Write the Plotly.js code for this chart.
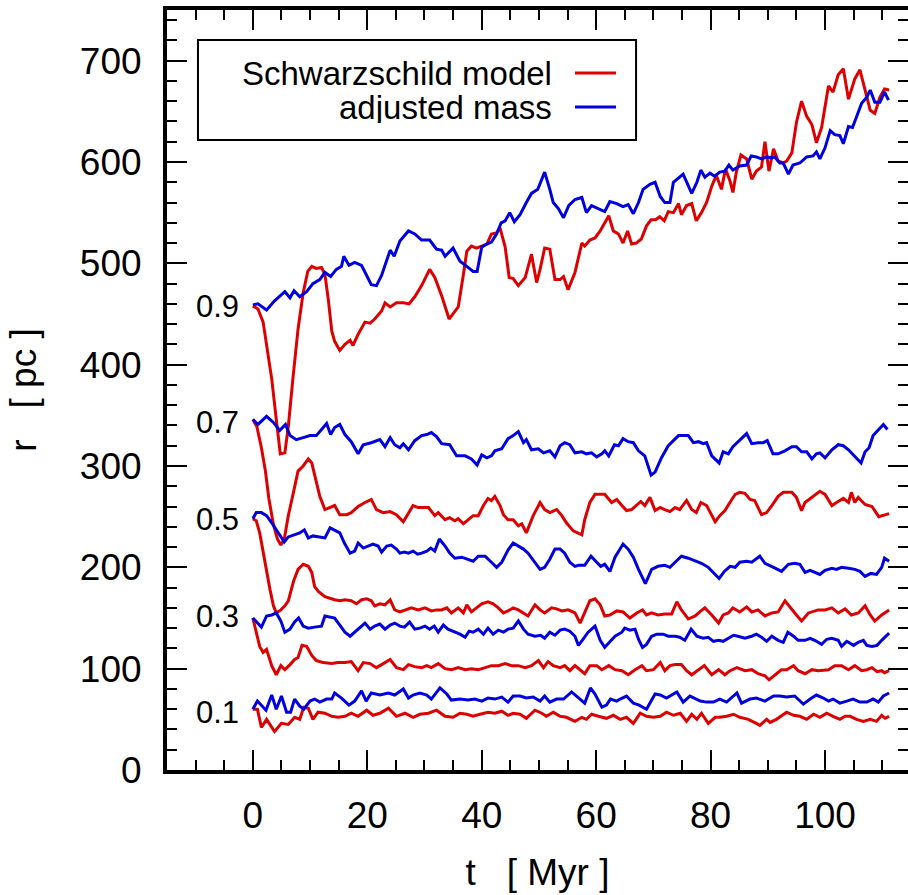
<!DOCTYPE html>
<html>
<head>
<meta charset="utf-8">
<script src="https://cdn.plot.ly/plotly-3.0.1.min.js"></script>
<style>html,body{margin:0;padding:0;background:#fff;overflow:hidden;}#chart{width:908px;height:895px;}</style>
</head>
<body>
<div id="chart"></div>
<script>
// ---- data: r [pc] vs t [Myr] for Lagrangian radii 0.1 ... 0.9 ----
// Schwarzschild model (red)
const tS09 = [0,0.9,1.8,2.4,3.3,4.1,4.8,5.6,6.2,7.0,7.9,8.8,9.6,10.3,11.1,12.0,12.6,13.2,13.8,14.3,15.2,16.1,17.0,17.5,18.4,19.6,20.5,21.3,22.5,23.1,24.0,25.1,26.3,27.3,28.3,29.5,30.9,31.8,33.0,34.3,35.9,36.8,37.4,38.2,39.1,40.0,40.9,41.7,42.6,43.2,44.1,44.8,45.5,46.4,47.6,48.7,49.6,50.2,51.0,51.9,52.8,53.7,54.3,55.1,56.3,57.5,58.0,58.9,59.8,60.7,61.5,62.2,63.0,63.9,64.7,65.5,66.2,67.0,67.9,68.8,69.6,70.4,71.1,71.9,72.6,73.5,74.4,74.9,75.8,76.7,77.5,78.4,79.3,80.2,81.0,81.9,82.6,83.4,83.9,84.5,85.3,86.3,87.2,88.0,88.9,89.5,90.2,91.0,91.8,92.7,93.3,94.2,95.0,95.9,96.8,97.7,98.5,99.4,100.6,101.4,102.3,103.2,104.1,105.2,106.1,107.0,107.9,108.7,109.6,110.4,111.2];
const rS09 = [458,455,442,418,386,346,312,313,339,386,435,471,492,497,495,496,489,464,433,423,414,420,424,419,430,442,441,445,453,461,457,461,461,460,467,478,494,486,468,445,457,489,512,517,515,517,519,529,530,535,516,486,485,478,486,509,481,494,515,514,484,484,487,474,491,520,517,523,525,532,540,547,532,529,520,532,519,520,524,537,543,543,546,542,551,550,559,548,557,559,542,550,560,576,587,573,593,581,570,590,607,603,583,591,595,620,591,613,601,599,601,609,639,660,645,637,619,634,675,669,686,692,662,682,691,672,651,648,664,672,671];

const tS07 = [0,0.7,1.5,2.2,2.8,3.6,4.3,4.9,5.5,6.2,7.1,7.9,8.8,9.7,10.3,10.8,11.7,12.6,13.5,14.3,15.2,16.4,17.2,18.4,19.6,20.7,21.6,22.8,24.0,25.1,26.3,27.2,28.0,28.9,29.8,30.7,31.8,32.4,33.6,34.4,35.3,35.9,36.8,37.6,38.5,39.4,40.3,41.1,41.7,42.3,43.2,43.8,44.6,45.5,46.4,47.0,47.8,49.0,50.2,51.0,51.9,53.1,54.0,54.8,56.0,57.5,58.0,58.9,59.8,60.7,61.5,62.7,63.6,64.5,65.3,66.2,67.1,67.8,68.5,69.4,70.3,71.2,72.0,72.9,73.8,74.6,75.8,76.7,77.5,78.3,79.3,80.2,80.8,81.6,82.5,83.7,84.3,85.1,86.0,86.9,87.7,88.9,89.8,90.7,91.8,92.7,94.2,95.0,95.9,96.5,97.6,99.1,100.0,101.2,102.0,103.2,104.1,104.6,105.2,105.8,107.0,108.2,109.4,110.4,111.2];
const rS07 = [346,339,318,295,268,242,228,222,228,251,274,295,300,307,303,290,270,257,259,261,252,252,254,260,264,267,257,254,255,252,245,254,261,259,259,259,251,254,247,249,246,248,243,247,251,251,261,268,266,270,261,252,247,247,241,243,234,251,264,257,254,257,251,244,236,232,247,264,272,272,272,264,267,261,256,257,261,265,261,269,256,259,257,255,259,257,266,257,254,264,261,252,245,251,256,267,272,274,273,267,266,252,254,261,270,274,274,269,256,264,269,275,272,261,264,268,264,274,264,269,262,260,250,252,253];

const tS05 = [0,0.6,1.2,1.8,2.4,3.0,3.6,4.1,4.9,5.6,6.2,7.1,7.9,8.8,9.7,10.3,10.8,11.5,12.6,13.5,14.3,15.2,16.1,17.2,18.1,19.0,19.9,20.7,21.3,22.2,23.1,24.0,24.8,25.7,26.6,27.7,28.9,30.1,31.2,32.1,33.0,33.9,34.7,35.9,36.8,37.4,38.2,39.1,40.0,41.1,42.0,42.9,43.8,44.6,45.5,46.4,47.3,48.1,49.3,50.2,51.0,52.2,53.1,54.0,55.1,56.3,57.2,58.0,58.9,59.8,60.7,61.5,62.4,63.6,64.7,65.9,67.1,68.1,68.8,69.7,70.8,72.0,73.2,74.1,74.9,76.1,77.3,78.1,79.0,80.2,81.4,82.2,83.1,83.9,85.1,86.3,87.2,88.3,89.5,90.7,91.8,93.0,94.2,95.0,95.9,97.1,98.8,100.0,101.2,102.3,103.5,104.6,105.8,107.0,107.9,108.7,109.9,111.2];
const rS05 = [248,246,234,214,195,178,162,155,158,162,167,186,198,203,201,195,181,176,171,169,168,167,168,167,164,168,169,167,162,164,163,168,158,156,158,160,158,160,157,158,158,160,155,160,155,163,156,160,164,166,164,160,155,157,160,158,155,152,163,158,155,160,159,157,158,155,145,155,167,169,163,152,153,157,156,150,155,158,153,155,153,154,154,166,158,149,152,156,160,153,145,153,155,160,156,161,156,158,152,155,156,167,158,153,147,155,158,158,160,155,159,153,155,162,153,147,153,158];

const tS03 = [0,0.6,1.2,1.8,2.4,3.3,4.1,4.9,5.6,6.5,7.3,7.9,8.6,9.4,10.3,11.1,12.3,13.8,14.9,16.1,17.2,18.4,19.3,20.5,21.6,22.8,24.0,25.1,26.3,27.2,28.3,29.5,30.4,31.2,32.4,33.6,34.7,35.9,37.1,38.2,39.4,40.6,41.7,42.9,44.1,45.2,46.4,47.6,48.7,49.9,50.8,51.6,52.5,53.7,54.5,55.4,56.3,58.0,58.9,60.1,61.0,62.2,63.3,64.5,65.6,66.8,68.0,68.8,70.0,71.2,72.0,72.9,73.8,74.9,75.8,76.7,77.9,78.9,80.2,81.4,82.5,83.4,84.6,86.0,87.2,88.3,89.5,90.2,91.3,92.4,93.3,94.5,95.3,96.5,97.7,98.8,100.6,101.7,102.9,104.1,105.2,106.4,107.3,108.2,109.1,109.9,110.4,111.2];
const rS03 = [150,136,122,116,119,103,94,103,99,104,109,111,123,122,113,108,106,105,106,106,107,98,106,105,101,105,109,101,99,104,102,101,103,101,105,100,99,101,99,100,99,101,103,103,105,103,103,101,103,108,101,107,103,101,103,98,103,95,103,103,99,103,99,98,94,99,103,98,99,106,98,103,104,104,98,94,99,103,94,99,94,98,101,98,99,95,93,89,94,99,99,103,98,95,99,98,99,103,103,99,103,98,99,101,97,98,96,98];

const tS01 = [0,0.8,1.5,2.4,3.8,5.0,6.2,7.3,8.2,8.9,9.7,10.5,11.4,12.6,13.8,14.9,16.1,17.2,18.4,19.9,21.0,22.2,23.7,25.1,26.6,28.0,29.2,30.7,32.1,33.6,35.0,36.2,37.4,38.5,39.7,41.1,42.3,43.5,44.6,45.5,46.7,47.8,49.3,50.5,51.3,52.5,53.7,54.8,56.3,57.5,58.3,59.2,60.4,61.8,63.0,64.2,65.3,66.5,67.7,68.8,70.0,71.2,72.3,73.5,74.7,75.8,76.7,77.6,78.4,79.6,80.8,81.6,82.8,84.0,85.1,86.6,88.0,88.6,89.8,90.4,91.5,93.3,94.5,95.6,96.8,98.0,99.1,100.3,101.4,102.6,103.5,104.4,105.5,106.7,107.9,109.0,109.9,110.5,111.2];
const rS01 = [60,60,42,50,38,46,45,52,50,62,61,50,57,56,53,52,53,56,53,59,54,56,61,53,56,52,55,56,59,53,52,56,55,53,55,57,56,58,54,56,55,51,59,56,53,57,53,52,48,52,50,55,53,51,54,50,52,46,56,53,52,53,57,54,56,48,55,50,56,46,52,52,53,55,52,50,46,44,50,47,50,57,54,53,50,55,52,56,53,50,53,53,50,48,50,48,54,51,53];

// adjusted mass (blue)
const tA09 = [0,0.9,2.4,3.8,5.6,6.5,7.2,8.2,9.4,10.5,11.7,12.6,13.6,14.6,15.5,15.9,16.8,17.8,19.0,19.9,20.7,21.6,22.5,24.0,24.7,25.7,27.2,28.3,29.5,30.9,32.1,33.0,33.6,35.0,36.2,37.4,38.5,39.2,40.0,40.9,41.7,42.6,43.4,44.1,44.9,45.7,46.7,47.8,48.7,49.8,51.0,51.9,52.5,53.4,54.3,55.2,56.3,57.5,58.3,59.2,60.4,61.5,62.4,63.6,64.7,65.6,66.5,67.4,68.2,69.4,70.3,71.2,72.0,72.9,73.5,74.7,75.2,76.0,76.7,77.6,78.3,79.0,79.9,80.7,81.6,82.5,83.2,83.9,85.1,86.3,87.1,88.0,88.9,89.8,90.7,91.2,92.1,92.7,93.6,94.4,95.6,96.8,97.9,98.5,99.1,100.0,100.9,101.7,102.6,103.2,104.1,104.8,105.5,106.4,107.3,107.9,108.7,109.6,110.4,111.1];
const rA09 = [459,460,454,463,472,466,473,467,472,480,484,491,487,494,497,507,498,501,498,488,479,478,488,513,507,522,532,529,523,523,514,513,507,515,502,497,492,492,516,519,521,529,540,542,550,541,548,560,569,573,590,573,560,554,545,557,563,565,550,557,554,551,561,559,556,558,549,560,573,578,580,566,560,560,580,586,588,578,569,580,592,585,589,586,590,591,597,592,596,597,606,605,603,605,604,605,599,599,588,597,599,605,606,610,603,614,631,627,626,618,635,634,644,658,664,671,659,659,669,661];

const tA07 = [0,0.9,2.4,3.6,4.7,5.7,6.5,7.6,8.8,10.0,11.1,12.0,12.9,13.6,14.3,15.2,16.1,17.2,18.4,19.3,20.7,22.2,23.1,24.0,24.8,25.7,26.3,27.2,28.3,29.5,30.4,31.2,32.1,33.0,34.4,35.6,37.1,38.2,39.2,40.0,40.9,41.7,42.3,43.5,44.6,45.5,46.4,47.3,47.8,48.7,49.9,50.8,51.9,52.8,53.7,54.5,55.4,56.3,57.5,58.3,59.2,60.1,61.0,61.5,62.2,63.2,63.9,64.7,65.6,66.5,67.4,68.5,69.1,69.6,70.3,71.4,72.6,73.5,74.4,75.2,76.1,77.0,77.9,78.7,79.3,80.2,80.8,81.5,82.2,83.1,83.9,85.1,86.3,87.2,88.3,89.2,89.9,90.9,91.8,93.0,94.2,95.0,95.9,96.8,97.7,98.5,99.1,100.0,101.2,102.3,103.2,104.1,105.2,106.3,107.0,107.7,108.4,109.3,110.2,110.9];
const rA07 = [346,341,349,343,335,341,330,326,328,330,330,336,342,331,338,341,331,324,312,321,323,326,319,328,321,318,322,316,325,330,331,333,329,322,321,310,310,307,301,311,308,310,315,317,327,330,334,323,326,316,317,313,315,309,320,323,321,313,314,312,313,309,312,315,310,321,320,327,324,323,315,310,300,291,294,308,320,325,330,330,330,323,324,322,323,310,307,303,314,312,319,326,332,322,323,323,325,312,312,315,319,319,314,314,307,312,313,308,316,321,320,316,310,303,314,318,330,336,341,336];

const tA05 = [0,0.6,1.5,2.4,3.3,4.1,4.9,5.5,6.2,7.3,8.2,9.0,9.7,10.5,11.7,12.6,13.5,14.3,15.2,16.0,17.0,17.8,18.4,19.3,20.2,21.0,21.9,22.5,23.4,24.2,25.1,25.7,26.5,27.2,28.0,28.8,29.5,30.4,31.1,31.8,32.6,33.6,34.4,35.3,36.5,37.6,38.5,39.4,40.6,41.7,42.6,43.5,44.6,45.5,46.4,47.3,48.1,49.2,50.2,51.0,51.9,52.8,53.7,54.5,55.4,56.3,56.9,58.0,59.1,60.1,60.8,61.5,62.4,63.3,64.7,65.6,66.5,67.4,68.6,69.7,70.8,72.0,72.9,73.8,74.9,76.1,77.3,78.4,79.6,80.5,81.5,82.4,83.4,84.3,85.1,86.3,87.2,88.6,89.5,91.0,92.4,93.6,94.7,95.6,96.5,97.4,98.2,99.1,100.0,101.2,102.0,102.9,104.1,105.2,106.1,107.0,108.0,109.0,109.9,110.4,111.2];
const rA05 = [248,254,254,251,244,237,231,225,230,232,234,237,229,231,230,229,239,237,234,224,214,216,224,219,221,223,221,215,221,222,218,214,215,214,216,213,214,216,219,216,228,221,214,209,210,208,206,211,211,205,200,205,217,224,221,218,214,205,198,200,208,218,218,214,205,201,202,202,211,205,201,203,196,210,223,218,210,198,184,198,201,202,200,205,211,209,206,204,200,195,189,196,201,200,205,206,205,211,204,200,196,203,204,203,195,197,195,193,197,199,198,200,199,198,196,191,194,193,200,209,206];

const tA03 = [0,0.6,1.5,2.4,3.3,4.1,4.9,5.6,6.5,7.3,8.0,8.8,9.7,10.8,12.0,12.6,13.5,14.3,15.2,16.1,17.0,17.8,18.7,19.6,20.5,21.3,22.2,23.1,24.0,24.8,25.7,26.5,27.4,28.3,29.2,30.1,30.9,31.7,32.4,33.3,34.1,35.0,36.2,37.1,37.8,38.5,39.4,40.3,41.1,42.0,42.9,43.8,44.6,45.5,46.4,47.3,48.1,49.3,50.3,51.0,51.9,52.8,53.7,54.5,55.4,56.3,56.9,57.7,58.6,59.8,60.7,61.5,62.4,63.3,64.5,65.0,65.9,66.8,67.4,68.1,68.8,69.7,70.6,71.7,72.6,73.8,74.6,75.5,76.6,77.6,78.7,79.6,80.5,81.4,82.2,83.1,84.0,84.8,86.0,87.2,88.0,88.9,89.8,90.7,91.8,92.7,93.5,94.5,95.3,96.5,97.4,98.2,99.4,100.3,101.2,102.3,102.9,103.8,105.0,105.8,106.7,107.3,108.2,109.1,109.9,111.2];
const rA03 = [150,146,141,152,153,155,147,136,139,146,150,142,140,141,142,152,151,150,143,136,132,136,141,145,139,142,144,139,143,145,142,141,146,139,140,142,139,142,136,143,139,137,134,131,137,136,139,134,140,134,138,136,139,140,147,139,134,132,133,130,136,133,138,139,137,132,123,129,136,142,128,121,127,132,136,140,138,139,129,121,124,132,134,134,132,132,131,128,139,132,130,131,127,128,127,130,133,132,130,132,134,131,127,132,128,126,136,132,128,128,130,128,124,129,130,128,122,127,123,126,128,123,122,123,128,135];

const tA01 = [0,0.8,2.3,3.3,4.1,5.0,5.9,6.6,7.3,8.2,8.9,10.0,10.8,11.7,12.9,13.8,14.3,15.5,16.8,17.8,19.0,19.8,20.7,22.2,23.7,24.8,26.3,27.2,28.0,29.2,30.4,31.2,32.7,33.9,34.7,36.2,37.6,38.8,40.0,41.1,42.3,43.5,44.6,45.5,46.7,47.8,49.0,50.2,51.0,51.9,53.1,54.3,55.7,56.9,58.0,59.0,59.8,61.0,61.8,62.5,63.6,64.2,65.3,66.5,67.5,68.8,70.3,71.2,72.3,74.1,75.2,76.4,78.2,79.3,80.5,81.6,82.8,84.6,85.4,86.9,88.0,89.5,91.0,92.1,93.3,94.7,96.2,97.4,98.5,99.7,100.6,101.4,102.6,103.8,104.9,106.1,107.3,108.4,109.3,110.2,111.2];
const rA01 = [60,68,59,74,60,73,57,57,70,63,60,68,70,67,70,70,76,71,64,68,78,68,76,74,76,74,80,71,74,76,74,70,81,75,69,70,69,70,68,71,70,72,67,73,73,71,72,68,73,67,70,70,77,71,66,81,75,62,64,70,68,70,73,66,64,60,75,74,71,77,67,73,68,67,67,70,67,76,66,70,71,68,73,73,72,73,65,70,74,71,68,70,66,68,70,67,67,70,67,73,76];

const massFractions = ['0.9','0.7','0.5','0.3','0.1'];
const labelR = [457,343,247,151,57];
const legendNames = ['Schwarzschild model','adjusted mass'];
const xTitle = 't\u00a0\u00a0\u00a0[ Myr ]';
const yTitle = 'r\u00a0\u00a0\u00a0[ pc ]';

const RED = '#dd0000', BLUE = '#0000dd';
const series = [
  [tS09,rS09,RED],[tS07,rS07,RED],[tS05,rS05,RED],[tS03,rS03,RED],[tS01,rS01,RED],
  [tA09,rA09,BLUE],[tA07,rA07,BLUE],[tA05,rA05,BLUE],[tA03,rA03,BLUE],[tA01,rA01,BLUE]
];
const traces = series.map(([t,r,c]) => ({
  x:t, y:r, type:'scatter', mode:'lines',
  line:{color:c, width:3},
  name: c===RED ? legendNames[0] : legendNames[1],
  showlegend:false, hoverinfo:'skip'
}));

const FONT = 'Liberation Sans, Arial, Helvetica, sans-serif';
const annotations = massFractions.map((s,i) => ({
  x:-10.2, y:labelR[i], xref:'x', yref:'y', text:s, showarrow:false,
  xanchor:'left', yanchor:'middle', font:{size:31, family:FONT, color:'black'}
}));
// hand-drawn legend (text right-aligned, line sample to the right)
const legY = [0.917, 0.8725];
legendNames.forEach((n,i) => annotations.push({
  x:0.5223, y:legY[i], xref:'paper', yref:'paper', text:n, showarrow:false,
  xanchor:'right', yanchor:'middle', height:32, valign:'middle',
  font:{size:33, family:FONT, color:'black'}
}));
const shapes = [
  {type:'rect', xref:'paper', yref:'paper', x0:0.0418, x1:0.633, y0:0.829, y1:0.9605,
   line:{color:'black', width:2}, fillcolor:'white', layer:'below'},
  {type:'line', xref:'paper', yref:'paper', x0:0.5506, x1:0.606, y0:legY[0], y1:legY[0], line:{color:RED, width:3}},
  {type:'line', xref:'paper', yref:'paper', x0:0.5506, x1:0.606, y0:legY[1], y1:legY[1], line:{color:BLUE, width:3}}
];

const axisCommon = {
  ticks:'inside', ticklen:20, tickwidth:2, tickcolor:'black',
  showline:true, linewidth:4, linecolor:'black', mirror:'allticks',
  showgrid:false, zeroline:false, tickfont:{size:37, family:FONT, color:'black'}
};
const layout = {
  width:908, height:895,
  margin:{l:167, r:0, t:10, b:125},
  paper_bgcolor:'white', plot_bgcolor:'white',
  font:{family:FONT, color:'black'},
  showlegend:false,
  xaxis:Object.assign({}, axisCommon, {
    range:[-15,114.5], tick0:0, dtick:20, ticklabelstandoff:10,
    minor:{dtick:5, tick0:0, ticklen:10, tickwidth:2, tickcolor:'black', ticks:'inside', showgrid:false},
    title:{text:xTitle, font:{size:37, family:FONT, color:'black'}, standoff:25}
  }),
  yaxis:Object.assign({}, axisCommon, {
    range:[0,750], tick0:0, dtick:100, ticklabelstandoff:14,
    minor:{dtick:20, tick0:0, ticklen:10, tickwidth:2, tickcolor:'black', ticks:'inside', showgrid:false},
    title:{text:yTitle, font:{size:37, family:FONT, color:'black'}, standoff:33}
  }),
  annotations:annotations, shapes:shapes
};
Plotly.newPlot('chart', traces, layout, {displayModeBar:false, staticPlot:true});
</script>
</body>
</html>
